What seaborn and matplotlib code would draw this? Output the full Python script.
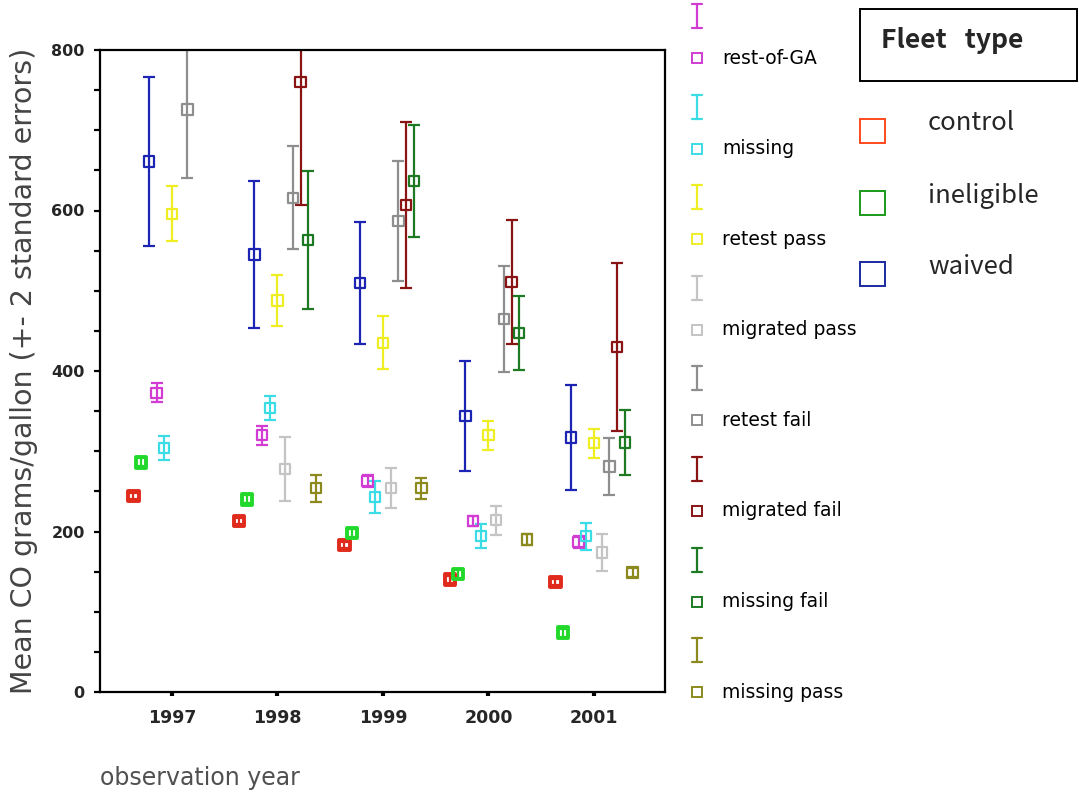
import numpy as np
import pandas as pd
import matplotlib
matplotlib.use("Agg")
import matplotlib.pyplot as plt
import seaborn as sns
from matplotlib.patches import Rectangle
from matplotlib.lines import Line2D

# ---- data: mean CO (grams/gallon) and 2-standard-error half widths ----
years = [1997, 1998, 1999, 2000, 2001]

control_mean = [244, 213, 183, 140, 137]
control_err = [4, 4, 4, 4, 4]
ineligible_mean = [286, 240, 198, 147, 74]
ineligible_err = [5, 5, 5, 5, 5]
waived_mean = [661, 545, 510, 344, 317]
waived_err = [105, 92, 76, 68, 65]
rest_of_ga_mean = [373, 320, 263, 213, 187]
rest_of_ga_err = [12, 12, 8, 6, 8]
missing_mean = [304, 354, 243, 194, 194]
missing_err = [15, 15, 20, 15, 17]
retest_pass_mean = [596, 488, 435, 320, 310]
retest_pass_err = [34, 32, 33, 18, 18]
migrated_pass_mean = [None, 278, 254, 214, 174]
migrated_pass_err = [None, 40, 25, 18, 23]
retest_fail_mean = [726, 616, 587, 465, 281]
retest_fail_err = [86, 64, 75, 66, 35]
migrated_fail_mean = [None, 760, 607, 511, 430]
migrated_fail_err = [None, 153, 103, 77, 105]
missing_fail_mean = [None, 563, 637, 447, 311]
missing_fail_err = [None, 86, 70, 46, 40]
missing_pass_mean = [None, 254, 254, 190, 149]
missing_pass_err = [None, 17, 13, 7, 6]

series_names = ["control", "ineligible", "waived", "rest-of-GA", "missing",
                "retest pass", "migrated pass", "retest fail", "migrated fail",
                "missing fail", "missing pass"]
series_means = [control_mean, ineligible_mean, waived_mean, rest_of_ga_mean,
                missing_mean, retest_pass_mean, migrated_pass_mean,
                retest_fail_mean, migrated_fail_mean, missing_fail_mean,
                missing_pass_mean]
series_errs = [control_err, ineligible_err, waived_err, rest_of_ga_err,
               missing_err, retest_pass_err, migrated_pass_err,
               retest_fail_err, migrated_fail_err, missing_fail_err,
               missing_pass_err]

fleet_types = ["control", "ineligible", "waived"]
side_legend = ["rest-of-GA", "missing", "retest pass", "migrated pass",
               "retest fail", "migrated fail", "missing fail", "missing pass"]

y_ticks = [0, 200, 400, 600, 800]

# ---- styling ----
colors = {
    "control": "#e02a1c",
    "ineligible": "#22d82a",
    "waived": "#1c24b4",
    "rest-of-GA": "#d23cd2",
    "missing": "#3cdce6",
    "retest pass": "#eeee22",
    "migrated pass": "#c4c4c4",
    "retest fail": "#8e8e8e",
    "migrated fail": "#8a1414",
    "missing fail": "#1e7a22",
    "missing pass": "#8c8a1e",
}
legend_colors = {
    "control": "#ff4a1e",
    "ineligible": "#1a9a1a",
    "waived": "#1a2aa0",
}
thick = {"control": 2.8, "ineligible": 2.8}

rows = []
for name, means, errs in zip(series_names, series_means, series_errs):
    for yr, m, e in zip(years, means, errs):
        if m is not None:
            rows.append({"series": name, "year": yr, "mean": m, "err": e})
df = pd.DataFrame(rows)

# dodge each series within its year
step = 0.073
offset = {n: (i - (len(series_names) - 1) / 2) * step for i, n in enumerate(series_names)}
df["xpos"] = df["year"] + df["series"].map(offset)

W, H = 1079, 794
sns.set_style("white")
plt.rcParams["font.family"] = ["DejaVu Sans"]
fig = plt.figure(figsize=(W / 100, H / 100), dpi=100)
ax = fig.add_axes([100 / W, 1 - 692 / H, 565 / W, 642 / H])

for name in series_names:
    sub = df[df["series"] == name]
    ax.errorbar(sub["xpos"], sub["mean"], yerr=sub["err"], fmt="none",
                ecolor=colors[name], elinewidth=1.6, capsize=4, capthick=1.6,
                zorder=2)

sns.scatterplot(data=df, x="xpos", y="mean", hue="series", hue_order=series_names,
                palette=colors, marker="s", s=55, legend=False, ax=ax, zorder=3)
pc = ax.collections[-1]
pc.set_edgecolors([colors[s] for s in df["series"]])
pc.set_facecolors("none")
pc.set_linewidths([thick.get(s, 1.6) for s in df["series"]])

ax.set_xlim(1996.318, 2001.673)
ax.set_ylim(0, 800)
ax.set_xticks(years)
ax.set_xticklabels([str(y) for y in years])
ax.set_yticks(y_ticks)
ax.set_yticks(np.arange(0, 801, 50), minor=True)
ax.set_xlabel("")
ax.set_ylabel("")
for sp in ax.spines.values():
    sp.set_visible(True)
    sp.set_color("black")
    sp.set_linewidth(1.6)
ax.tick_params(axis="y", which="both", direction="out", length=4, width=1.6,
               left=True, color="black", labelsize=11.5, pad=7)
ax.tick_params(axis="x", which="major", direction="out", length=3, width=3,
               bottom=True, color="black", labelsize=12.5, pad=9)
for lab in ax.get_xticklabels() + ax.get_yticklabels():
    lab.set_fontweight("bold")

# axis titles
fig.text(24 / W, 1 - 371 / H, "Mean CO grams/gallon (+- 2 standard errors)",
         rotation=90, ha="center", va="center", fontsize=20.5, color="#444444")
fig.text(100 / W, 1 - 778 / H, "observation year", ha="left", va="center",
         fontsize=17, color="#505050")

# side legend: error-bar glyph above a square glyph and label
def fx(x):
    return x / W

def fy(y):
    return 1 - y / H

for k, name in enumerate(side_legend):
    ysq = 58 + 90.6 * k
    yi = ysq - 42
    c = colors[name]
    fig.add_artist(Line2D([fx(697), fx(697)], [fy(yi - 12), fy(yi + 12)],
                          color=c, lw=1.6, transform=fig.transFigure))
    for yc in (yi - 12, yi + 12):
        fig.add_artist(Line2D([fx(692), fx(702)], [fy(yc), fy(yc)],
                              color=c, lw=1.6, transform=fig.transFigure))
    fig.add_artist(Line2D([fx(697)], [fy(ysq)], marker="s", markersize=7,
                          markerfacecolor="none", markeredgecolor=c,
                          markeredgewidth=1.4, transform=fig.transFigure))
    fig.text(fx(722), fy(ysq), name, ha="left", va="center", fontsize=13.5,
             color="black")

# fleet type legend
cjk = ["Noto Sans CJK SC", "DejaVu Sans"]
fig.add_artist(Rectangle((fx(860), fy(81)), 217 / W, 72 / H, fill=False,
                         lw=1.4, edgecolor="black", transform=fig.transFigure))
fig.text(fx(881), fy(40), "Fleet   type", ha="left", va="center", fontsize=19,
         fontweight="bold", family=cjk)
for name, ysq, ytx in zip(fleet_types, [131, 203, 274], [123, 196, 267]):
    fig.add_artist(Rectangle((fx(860), fy(ysq + 12)), 25 / W, 24 / H, fill=False,
                             lw=1.4, edgecolor=legend_colors[name],
                             transform=fig.transFigure))
    fig.text(fx(928), fy(ytx), name, ha="left", va="center", fontsize=18.5,
             family=cjk)

fig.savefig("out.png", dpi=100, facecolor="white")
